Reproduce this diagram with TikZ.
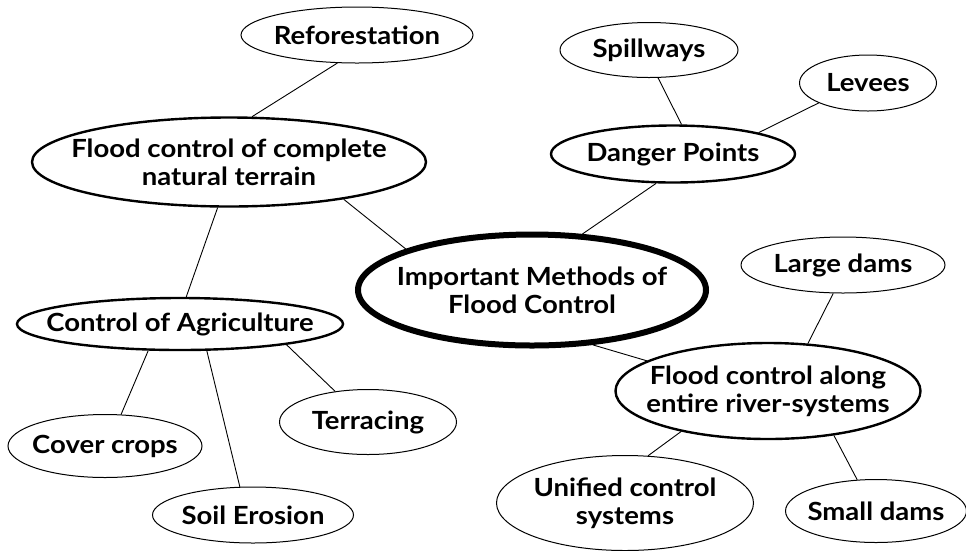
\documentclass[tikz,border=0pt]{standalone}
\usepackage{fontspec}
\setmainfont{Lato}[FakeStretch=1.1]
\usetikzlibrary{shapes.geometric}
\begin{document}
\begin{tikzpicture}[x=1pt,y=-1pt,
  bub/.style={ellipse,draw,inner sep=0pt,line width=1pt},
  mid/.style={bub,line width=2.4pt},
  hub/.style={bub,line width=6pt},
  txt/.style={inner sep=0pt,align=center,font=\fontsize{25}{28}\selectfont\bfseries},
  link/.style={line width=0.9pt}]
\useasboundingbox (0,0) rectangle (966,550);
\node[bub,minimum width=232pt,minimum height=56pt] (refo) at (357,35) {};
\node[mid,minimum width=394pt,minimum height=89pt] (terr) at (229,162) {};
\node[bub,minimum width=178pt,minimum height=55pt] (spill) at (649,50) {};
\node[bub,minimum width=137pt,minimum height=56pt] (lev) at (868,83) {};
\node[mid,minimum width=244pt,minimum height=57pt] (dang) at (673,154) {};
\node[hub,minimum width=348pt,minimum height=111pt] (imp) at (532,290) {};
\node[bub,minimum width=204pt,minimum height=56pt] (large) at (843,265) {};
\node[mid,minimum width=326pt,minimum height=52pt] (agri) at (180,324) {};
\node[mid,minimum width=305pt,minimum height=96pt] (river) at (768,391) {};
\node[bub,minimum width=177pt,minimum height=65pt] (terc) at (368,422) {};
\node[bub,minimum width=194pt,minimum height=63pt] (cover) at (105,446) {};
\node[bub,minimum width=201pt,minimum height=56pt] (soil) at (253,515) {};
\node[bub,minimum width=257pt,minimum height=95pt] (unif) at (625,503) {};
\node[bub,minimum width=181pt,minimum height=63pt] (small) at (876,511) {};
\node[txt] (refo-t) at (refo) {Reforestation};
\node[txt] (terr-t) at (terr) {Flood control of complete\\natural terrain};
\node[txt] (spill-t) at (spill) {Spillways};
\node[txt] (lev-t) at (lev) {Levees};
\node[txt] (dang-t) at (dang) {Danger Points};
\node[txt] (imp-t) at (imp) {Important Methods of\\Flood Control};
\node[txt] (large-t) at (large) {Large dams};
\node[txt] (agri-t) at (agri) {Control of Agriculture};
\node[txt] (river-t) at (river) {Flood control along\\entire river-systems};
\node[txt] (terc-t) at (terc) {Terracing};
\node[txt] (cover-t) at (cover) {Cover crops};
\node[txt] (soil-t) at (soil) {Soil Erosion};
\node[txt] (unif-t) at (unif) {Unified control\\systems};
\node[txt] (small-t) at (small) {Small dams};
\draw[link] (refo.235) -- (terr.63);
\draw[link] (terr.342) -- (imp.162);
\draw[link] (terr.256) -- (agri.77);
\draw[link] (dang.74) -- (spill.288);
\draw[link] (dang.14) -- (lev.202);
\draw[link] (dang.240) -- (imp.48);
\draw[link] (imp.318) -- (river.166);
\draw[link] (large.251) -- (river.50);
\draw[link] (river.205) -- (unif.64);
\draw[link] (river.326) -- (small.121);
\draw[link] (agri.220) -- (cover.63);
\draw[link] (agri.315) -- (soil.115);
\draw[link] (agri.349) -- (terc.137);
\end{tikzpicture}
\end{document}
